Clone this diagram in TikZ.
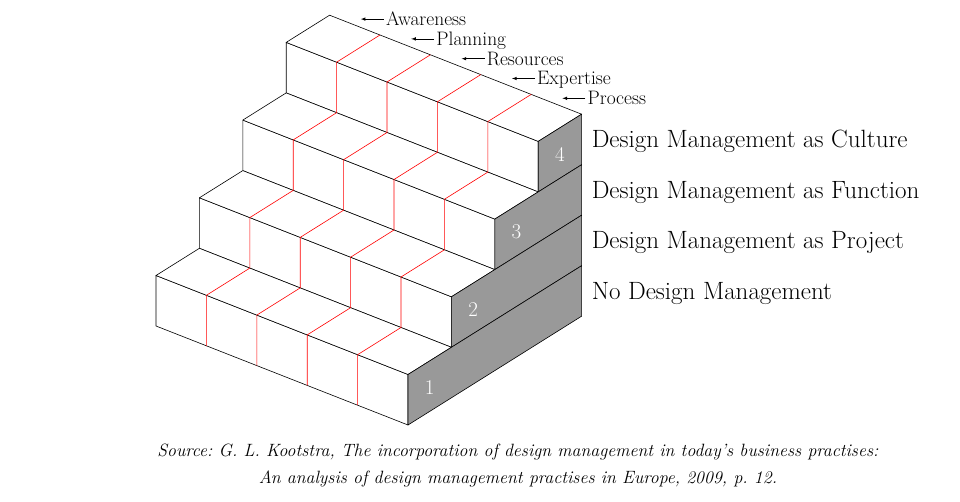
\documentclass[tikz,border=0pt]{standalone}
\usetikzlibrary{positioning}
\definecolor{sidegray}{RGB}{153,153,153}
\tikzset{
  edgeline/.style={draw=black, line width=0.6pt, line join=round},
  blockline/.style={draw=red, line width=0.6pt},
  stepnum/.style={text=white, font=\fontsize{21}{21}\selectfont},
  aspectlabel/.style={inner sep=2pt, text height=13pt, text depth=0pt, font=\fontsize{19.5}{19.5}\selectfont},
  levellabel/.style={inner sep=0pt, text height=17pt, text depth=0pt, font=\fontsize{25}{25}\selectfont},
  sourcenote/.style={align=center, font=\fontsize{17.8}{27}\selectfont\itshape\frenchspacing}
}
\begin{document}
\begin{tikzpicture}[>=latex, x=1pt, y=1pt]
\useasboundingbox (0,0) rectangle (960,-502);
\begin{scope}[shift={(156,-326)}, x={(50.4pt,-19.8pt)}, y={(0pt,50.5pt)}, z={(43.4pt,27.2pt)}]
\foreach \k in {4,3,2,1}{
  \pgfmathtruncatemacro{\lo}{\k-1}
  \draw[edgeline, fill=white] (0,\lo,\lo) -- (5,\lo,\lo) -- (5,\k,\lo) -- (0,\k,\lo) -- cycle;
  \draw[edgeline, fill=white] (0,\k,\lo) -- (5,\k,\lo) -- (5,\k,\k) -- (0,\k,\k) -- cycle;
  \draw[edgeline, fill=sidegray] (5,\lo,\lo) -- (5,\lo,4) -- (5,\k,4) -- (5,\k,\lo) -- cycle;
  \node[name=num_\k, stepnum] at (5,\k-0.52,\k-0.5) {\k};
  \coordinate (side_\k) at (5,\k-0.5,4);
}
\foreach \i in {1,...,4}
  \draw[blockline] (\i,0,0) -- (\i,1,0) -- (\i,1,1) -- (\i,2,1) -- (\i,2,2) -- (\i,3,2) -- (\i,3,3) -- (\i,4,3) -- (\i,4,4);
\foreach \i in {1,...,5}
  \path (\i-0.5,4,4) ++(6pt,6pt) coordinate (tip_\i);
\end{scope}

\foreach \i/\txt in {1/Awareness,2/Planning,3/Resources,4/Expertise,5/Process}{
  \node[name=aspect_\i, aspectlabel, right=23pt of tip_\i]{\txt};
  \draw[line width=0.6pt](aspect_\i.west) edge[->](tip_\i);
}

\node[name=level_4, levellabel, right=10pt of side_4]{Design Management as Culture};
\node[name=level_3, levellabel, right=10pt of side_3]{Design Management as Function};
\node[name=level_2, levellabel, right=10pt of side_2]{Design Management as Project};
\node[name=level_1, levellabel, right=10pt of side_1]{No Design Management};

\node[name=source, sourcenote] at (518,-466){Source: G. L. Kootstra, The incorporation of design management in today's business practises:\\An analysis of design management practises in Europe, 2009, p. 12.};
\end{tikzpicture}
\end{document}
